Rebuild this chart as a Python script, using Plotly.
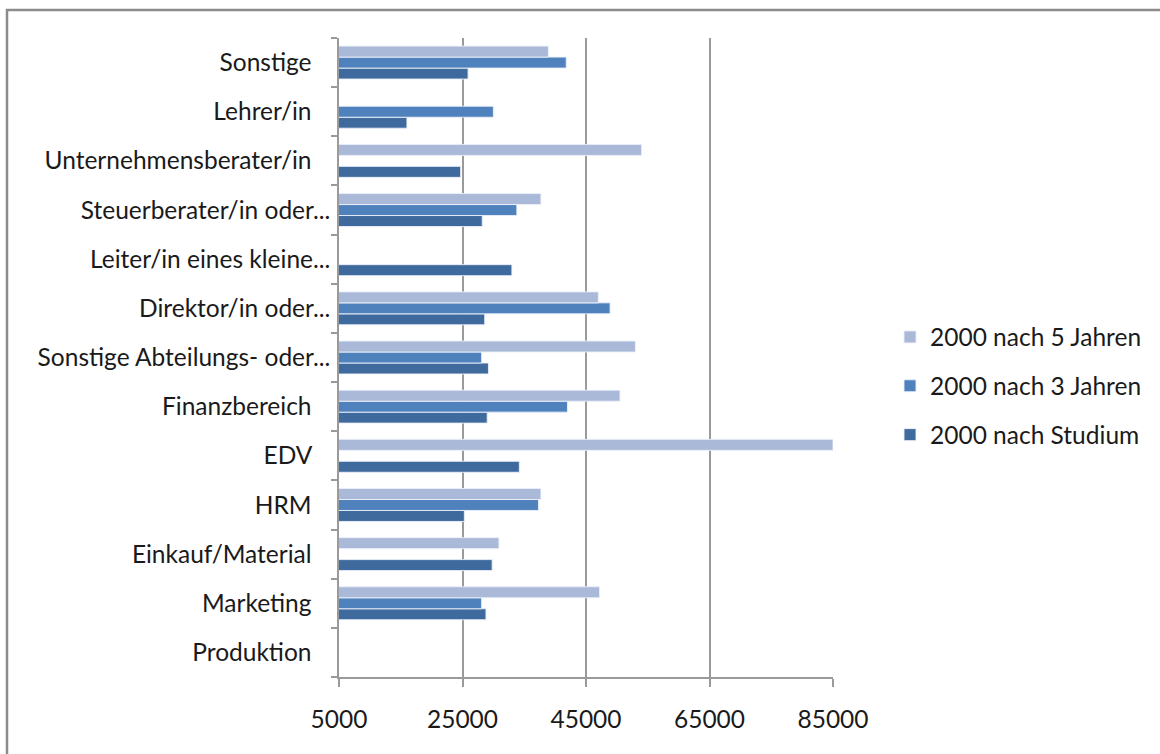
import plotly.graph_objects as go

# Categories listed bottom to top (Plotly draws the first category at the bottom)
categories = [
    "Produktion",
    "Marketing",
    "Einkauf/Material",
    "HRM",
    "EDV",
    "Finanzbereich",
    "Sonstige Abteilungs- oder...",
    "Direktor/in oder...",
    "Leiter/in eines kleine...",
    "Steuerberater/in oder...",
    "Unternehmensberater/in",
    "Lehrer/in",
    "Sonstige",
]

nach_5_jahren = [None, 47200, 30900, 37700, 85000, 50500, 53000, 47000, None, 37700, 54000, None, 38900]
nach_3_jahren = [None, 28100, None, 37300, None, 42000, 28100, 48900, None, 33800, None, 30000, 41800]
nach_studium = [None, 28800, 29800, 25300, 34200, 29000, 29200, 28600, 33000, 28200, 24700, 16000, 25900]

x_ticks = [5000, 25000, 45000, 65000, 85000]

# Full labels carry trailing padding, shortened ones do not
tick_labels = [c if c.endswith("...") else c + "\u00a0" * 3 for c in categories]

FONT = "Lato, Carlito, Calibri, sans-serif"
FS = 24.5
GRID = "#9a9a9a"

# (name, values, colour, legend rank)
series = [
    ("2000 nach Studium", nach_studium, "#3e6a9d", 3),
    ("2000 nach 3 Jahren", nach_3_jahren, "#4f81bd", 2),
    ("2000 nach 5 Jahren", nach_5_jahren, "#aab9d7", 1),
]

fig = go.Figure()
for name, vals, color, rank in series:
    fig.add_trace(go.Bar(
        y=categories, x=vals, name=name, orientation="h",
        legendgroup=name, legendrank=rank,
        marker=dict(color=color, line=dict(color="rgba(235,240,250,0.9)", width=1)),
    ))

# plot area in pixels
L, R, T, B = 339, 833, 38, 677
W, H = 1160, 754


def px_x(p):
    return (p - L) / (R - L)


def px_y(p):
    return (B - p) / (B - T)


fig.update_layout(
    width=W, height=H,
    margin=dict(l=L, r=W - R, t=T, b=H - B, pad=0),
    paper_bgcolor="white", plot_bgcolor="white",
    barmode="group", bargap=0.33, bargroupgap=0,
    font=dict(family=FONT, size=FS, color="#1a1a1a"),
    legend=dict(
        x=px_x(890), y=px_y(386), xanchor="left", yanchor="middle",
        traceorder="grouped", tracegroupgap=14,
        font=dict(family=FONT, size=FS, color="#1a1a1a"),
        itemwidth=30, bgcolor="rgba(0,0,0,0)",
    ),
    xaxis=dict(
        range=[5000, 85000], tickvals=x_ticks, ticktext=[str(v) for v in x_ticks],
        showgrid=True, gridcolor=GRID, gridwidth=1.5,
        showline=True, linecolor=GRID, linewidth=1.5,
        ticks="outside", ticklen=8, tickcolor=GRID, tickwidth=1.5,
        ticklabelstandoff=12, zeroline=False, fixedrange=True,
    ),
    yaxis=dict(
        categoryorder="array", categoryarray=categories,
        tickvals=categories, ticktext=tick_labels,
        showgrid=False, showline=True, linecolor=GRID, linewidth=1.5,
        ticks="outside", ticklen=6, tickcolor=GRID, tickwidth=1.5,
        tickson="boundaries", ticklabelstandoff=2, fixedrange=True,
    ),
    shapes=[dict(
        type="rect", xref="paper", yref="paper",
        x0=px_x(7), x1=px_x(1200), y0=px_y(800), y1=px_y(10),
        line=dict(color="#8c8c8c", width=2.5), fillcolor="rgba(0,0,0,0)", layer="below",
    )],
)

fig.write_html("out.html")
